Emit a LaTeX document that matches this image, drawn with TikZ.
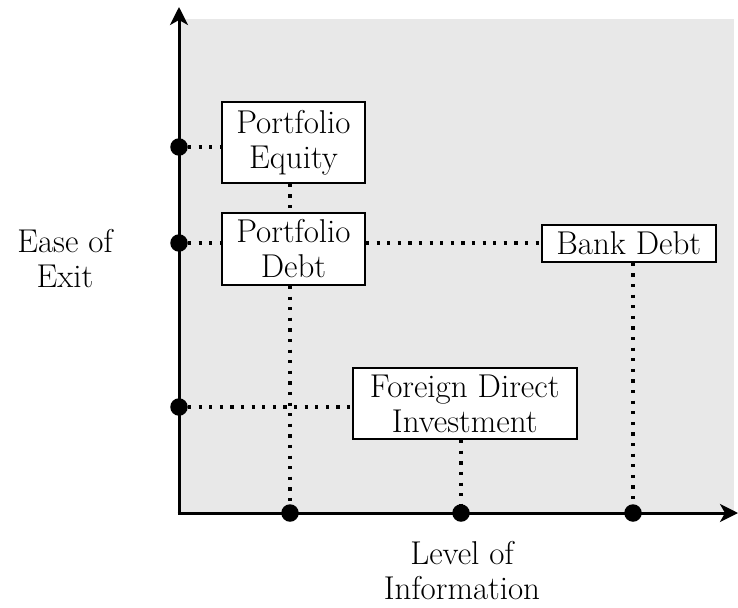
\documentclass[tikz,border=0pt]{standalone}
\usepackage{fontspec}
\usetikzlibrary{arrows.meta}
\definecolor{bgray}{RGB}{232,232,232}
\tikzset{
  axis/.style={line width=3pt, -{Stealth[length=18pt,width=18pt,inset=5pt]}},
  dotline/.style={line width=3.2pt, dash pattern=on 3.2pt off 7.4pt},
  pt/.style={circle, fill=black, inner sep=0pt, minimum size=17.5pt},
  box/.style={draw=black, line width=1.8pt, fill=white, inner sep=0pt, align=center, font=\fontsize{33}{35}\selectfont},
  lbl/.style={align=center, inner sep=0pt, font=\fontsize{33}{35}\selectfont}
}
\begin{document}
\begin{tikzpicture}[x=1pt,y=-1pt]
\useasboundingbox (0,0) rectangle (738,607);
\fill[bgray] (180,19) rectangle (734,513);
% axes
\coordinate (o) at (179,513);
\coordinate (ytop) at (179,7);
\coordinate (xend) at (738,513);
\draw[axis] (179,514.5) -- (ytop);
\draw[axis] (177.5,513) -- (xend);
% points on axes
\node[pt] (ype) at (179,147) {};
\node[pt] (ypd) at (179,243) {};
\node[pt] (yfdi) at (179,407) {};
\node[pt] (xpd) at (290,513) {};
\node[pt] (xfdi) at (461,513) {};
\node[pt] (xbd) at (633,513) {};
% boxes
\node[box, minimum width=143pt, minimum height=81pt] (pe) at (293.5,142.4) {Portfolio\\Equity};
\node[box, minimum width=143pt, minimum height=72pt] (pd) at (293.5,249) {Portfolio\\Debt};
\node[box, minimum width=174pt, minimum height=37pt] (bd) at (628.7,243.4) {Bank Debt};
\node[box, minimum width=224pt, minimum height=71pt] (fdi) at (464.7,403.7) {Foreign Direct\\Investment};
% connectors
\draw[dotline] (ype) -- (ype -| pe.west);
\draw[dotline] (ypd) -- (ypd -| pd.west);
\draw[dotline] (ypd -| pd.east) -- (ypd -| bd.west);
\draw[dotline] (yfdi) -- (yfdi -| fdi.west);
\draw[dotline] (pe.south -| xpd) -- (pd.north -| xpd);
\draw[dotline] (pd.south -| xpd) -- (xpd);
\draw[dotline] (fdi.south -| xfdi) -- (xfdi);
\draw[dotline] (bd.south -| xbd) -- (xbd);
% axis labels
\node[lbl] (ylab) at (65,258.6) {Ease of\\Exit};
\node[lbl] (xlab) at (462,571) {Level of\\Information};
\end{tikzpicture}
\end{document}
